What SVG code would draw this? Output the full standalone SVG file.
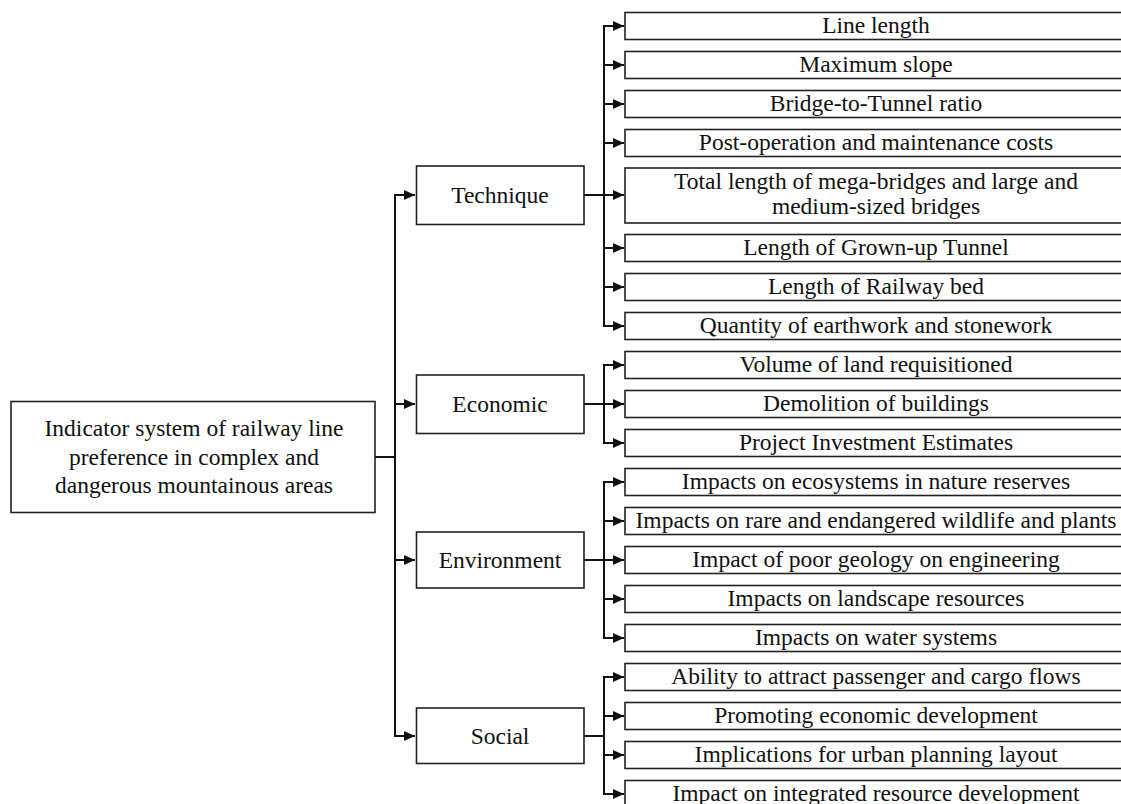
<svg xmlns="http://www.w3.org/2000/svg" width="1121" height="804" viewBox="0 0 1121 804">
<style>
.box{fill:#fff;stroke:#222;stroke-width:1.6}
.t{font-family:"Liberation Serif","Times New Roman",serif;font-size:23.5px;fill:#111;text-anchor:middle}
.c{fill:none;stroke:#111;stroke-width:2}
</style>
<defs>
<marker id="ah" markerUnits="userSpaceOnUse" markerWidth="12" markerHeight="12" refX="11" refY="6" orient="auto">
<path d="M0,1 L11,6 L0,11 z" fill="#111"/>
</marker>
</defs>
<rect width="1121" height="804" fill="#fff"/>
<g id="connectors">
<path class="c" d="M375,457 H395 V195 H415" marker-end="url(#ah)"/>
<path class="c" d="M395,457 V404 H415" marker-end="url(#ah)"/>
<path class="c" d="M395,457 V560 H415" marker-end="url(#ah)"/>
<path class="c" d="M395,457 V736 H415" marker-end="url(#ah)"/>
<path class="c" d="M584,195 H604 V26 H624" marker-end="url(#ah)"/>
<path class="c" d="M604,195 V65 H624" marker-end="url(#ah)"/>
<path class="c" d="M604,195 V104 H624" marker-end="url(#ah)"/>
<path class="c" d="M604,195 V143 H624" marker-end="url(#ah)"/>
<path class="c" d="M604,195 H624" marker-end="url(#ah)"/>
<path class="c" d="M604,195 V248 H624" marker-end="url(#ah)"/>
<path class="c" d="M604,195 V287 H624" marker-end="url(#ah)"/>
<path class="c" d="M604,195 V326 H624" marker-end="url(#ah)"/>
<path class="c" d="M584,404 H604 V365 H624" marker-end="url(#ah)"/>
<path class="c" d="M604,404 H624" marker-end="url(#ah)"/>
<path class="c" d="M604,404 V443 H624" marker-end="url(#ah)"/>
<path class="c" d="M584,560 H604 V482 H624" marker-end="url(#ah)"/>
<path class="c" d="M604,560 V521 H624" marker-end="url(#ah)"/>
<path class="c" d="M604,560 H624" marker-end="url(#ah)"/>
<path class="c" d="M604,560 V599 H624" marker-end="url(#ah)"/>
<path class="c" d="M604,560 V638 H624" marker-end="url(#ah)"/>
<path class="c" d="M584,736 H604 V677 H624" marker-end="url(#ah)"/>
<path class="c" d="M604,736 V716 H624" marker-end="url(#ah)"/>
<path class="c" d="M604,736 V755 H624" marker-end="url(#ah)"/>
<path class="c" d="M604,736 V794 H624" marker-end="url(#ah)"/>
</g>
<g id="root">
<rect class="box" x="11" y="401.5" width="364" height="111"/>
<text class="t" x="194" y="436">Indicator system of railway line</text>
<text class="t" x="194" y="464.5">preference in complex and</text>
<text class="t" x="194" y="493">dangerous mountainous areas</text>
</g>
<g id="technique">
<rect class="box" x="416.5" y="166" width="167.5" height="58.5"/>
<text class="t" x="500" y="202.5">Technique</text>
</g>
<g id="economic">
<rect class="box" x="416.5" y="375" width="167.5" height="58.5"/>
<text class="t" x="500" y="411.5">Economic</text>
</g>
<g id="environment">
<rect class="box" x="416.5" y="532" width="167.5" height="56"/>
<text class="t" x="500" y="568">Environment</text>
</g>
<g id="social">
<rect class="box" x="416.5" y="708" width="167.5" height="55.5"/>
<text class="t" x="500" y="743.5">Social</text>
</g>
<g id="line-length"><rect class="box" x="625" y="12.5" width="510" height="27"/><text class="t" x="876" y="33">Line length</text></g>
<g id="maximum-slope"><rect class="box" x="625" y="51.5" width="510" height="27"/><text class="t" x="876" y="72">Maximum slope</text></g>
<g id="bridge-tunnel"><rect class="box" x="625" y="90.5" width="510" height="27"/><text class="t" x="876" y="111">Bridge-to-Tunnel ratio</text></g>
<g id="post-operation"><rect class="box" x="625" y="129.5" width="510" height="27"/><text class="t" x="876" y="150">Post-operation and maintenance costs</text></g>
<g id="total-length"><rect class="box" x="625" y="168" width="510" height="55"/><text class="t" x="876" y="188.5">Total length of mega-bridges and large and</text><text class="t" x="876" y="214">medium-sized bridges</text></g>
<g id="grown-up-tunnel"><rect class="box" x="625" y="234.5" width="510" height="27"/><text class="t" x="876" y="255">Length of Grown-up Tunnel</text></g>
<g id="railway-bed"><rect class="box" x="625" y="273.5" width="510" height="27"/><text class="t" x="876" y="294">Length of Railway bed</text></g>
<g id="earthwork"><rect class="box" x="625" y="312.5" width="510" height="27"/><text class="t" x="876" y="333">Quantity of earthwork and stonework</text></g>
<g id="land"><rect class="box" x="625" y="351.5" width="510" height="27"/><text class="t" x="876" y="372">Volume of land requisitioned</text></g>
<g id="demolition"><rect class="box" x="625" y="390.5" width="510" height="27"/><text class="t" x="876" y="411">Demolition of buildings</text></g>
<g id="investment"><rect class="box" x="625" y="429.5" width="510" height="27"/><text class="t" x="876" y="450">Project Investment Estimates</text></g>
<g id="ecosystems"><rect class="box" x="625" y="468.5" width="510" height="27"/><text class="t" x="876" y="489">Impacts on ecosystems in nature reserves</text></g>
<g id="wildlife"><rect class="box" x="625" y="507.5" width="510" height="27"/><text class="t" x="876" y="528">Impacts on rare and endangered wildlife and plants</text></g>
<g id="geology"><rect class="box" x="625" y="546.5" width="510" height="27"/><text class="t" x="876" y="567">Impact of poor geology on engineering</text></g>
<g id="landscape"><rect class="box" x="625" y="585.5" width="510" height="27"/><text class="t" x="876" y="606">Impacts on landscape resources</text></g>
<g id="water"><rect class="box" x="625" y="624.5" width="510" height="27"/><text class="t" x="876" y="645">Impacts on water systems</text></g>
<g id="flows"><rect class="box" x="625" y="663.5" width="510" height="27"/><text class="t" x="876" y="684">Ability to attract passenger and cargo flows</text></g>
<g id="economic-development"><rect class="box" x="625" y="702.5" width="510" height="27"/><text class="t" x="876" y="723">Promoting economic development</text></g>
<g id="urban-planning"><rect class="box" x="625" y="741.5" width="510" height="27"/><text class="t" x="876" y="762">Implications for urban planning layout</text></g>
<g id="integrated-resource"><rect class="box" x="625" y="780.5" width="510" height="27"/><text class="t" x="876" y="801">Impact on integrated resource development</text></g>
</svg>
